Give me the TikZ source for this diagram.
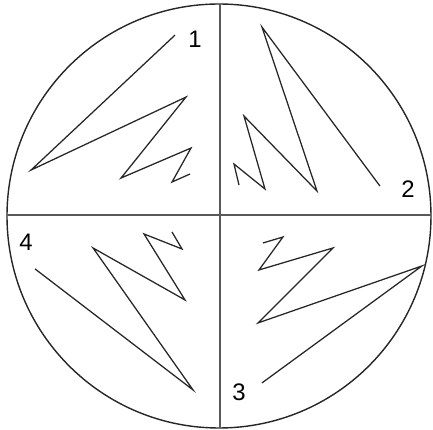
\documentclass[tikz,border=0pt]{standalone}
\usepackage{fontspec}
\setmainfont{Liberation Sans}
\usepackage{tkz-euclide}
\definecolor{ZigClr}{rgb}{0.15,0.15,0.15}
\definecolor{CrossClr}{rgb}{0.35,0.35,0.35}

\begin{document}
\begin{tikzpicture}[scale=.025]
\tikzset{zig/.style={line width=0.9pt,color=ZigClr,line join=miter},
         quarter/.style={font=\fontsize{17}{20}\selectfont,inner sep=0pt}}
\useasboundingbox (-219,-214) rectangle (214,216);

\tkzDefPoints{0/0/O,1/212/T,1/-212/B,-212/1/L,212/1/R}

% zigzag of quarter 1
\tkzDefPoints{-44/181/A1,-188/46/A2,-33/119/A3,-98/38/A4,-28/68/A5,-47/34/A6,-29/42/A7}
% zigzag of quarter 2
\tkzDefPoints{161/30/B1,43/189/B2,98/25/B3,25/100/B4,46/27/B5,15/52/B6,20/31/B7}
% zigzag of quarter 3
\tkzDefPoints{43/-167/C1,203/-50/C2,39/-107/C3,114/-32/C4,40/-54/C5,64/-21/C6,44/-27/C7}
% zigzag of quarter 4
\tkzDefPoints{-184/-53/D1,-26/-174/D2,-126/-32/D3,-34/-84/D4,-75/-18/D5,-37/-33/D6,-47/-16/D7}

\draw[line width=1pt,color=ZigClr] (O) circle (212);
\draw[line width=1.4pt,color=CrossClr] (T) -- (B);
\draw[line width=1.4pt,color=CrossClr] (L) -- (R);

\draw[zig] (A1)--(A2)--(A3)--(A4)--(A5)--(A6)--(A7);
\draw[zig] (B1)--(B2)--(B3)--(B4)--(B5)--(B6)--(B7);
\draw[zig] (C1)--(C2)--(C3)--(C4)--(C5)--(C6)--(C7);
\draw[zig] (D1)--(D2)--(D3)--(D4)--(D5)--(D6)--(D7);

\node[quarter] (q1) at (-24,177) {1};
\node[quarter] (q2) at (189,27) {2};
\node[quarter] (q3) at (20,-176) {3};
\node[quarter] (q4) at (-193,-26) {4};

\end{tikzpicture}
\end{document}
